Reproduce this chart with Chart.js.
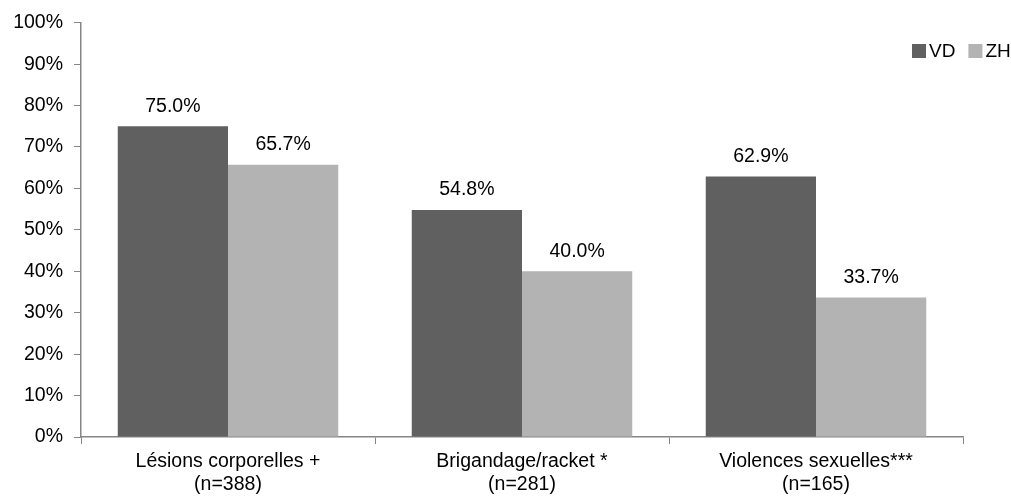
<!DOCTYPE html>
<html>
<head>
<meta charset="utf-8">
<script src="https://cdn.jsdelivr.net/npm/chart.js@4/dist/chart.umd.min.js"></script>
<style>
  html, body { margin: 0; padding: 0; background: #fff; }
  #wrap { width: 1011px; height: 497px; }
</style>
</head>
<body>
<div id="wrap"><canvas id="c" width="1011" height="497"></canvas></div>
<script>
// Categories (two-line labels) and series values in percent
const categories = [
  ['Lésions corporelles +', '(n=388)'],
  ['Brigandage/racket *', '(n=281)'],
  ['Violences sexuelles***', '(n=165)']
];
const seriesNames = ['VD', 'ZH'];
const vdValues = [75.0, 54.8, 62.9];
const zhValues = [65.7, 40.0, 33.7];
const yTicks = [0, 10, 20, 30, 40, 50, 60, 70, 80, 90, 100];

const FONT = '"Liberation Sans", Arial, sans-serif';
const SIZE = 19.5;
const AXIS = '#868686';

// Value labels above each bar
const valueLabels = {
  id: 'valueLabels',
  afterDatasetsDraw(chart) {
    const ctx = chart.ctx;
    ctx.save();
    ctx.font = SIZE + 'px ' + FONT;
    ctx.fillStyle = '#000';
    ctx.textAlign = 'center';
    ctx.textBaseline = 'alphabetic';
    chart.data.datasets.forEach((ds, i) => {
      chart.getDatasetMeta(i).data.forEach((bar, j) => {
        ctx.fillText(ds.data[j].toFixed(1) + '%', bar.x, bar.y - 14.5);
      });
    });
    ctx.restore();
  }
};

// Small legend in the upper right corner
const cornerLegend = {
  id: 'cornerLegend',
  afterDraw(chart) {
    const ctx = chart.ctx;
    ctx.save();
    ctx.font = '19px ' + FONT;
    ctx.textBaseline = 'middle';
    ctx.textAlign = 'left';
    const y = 51;
    let x = 912;
    chart.data.datasets.forEach(ds => {
      ctx.fillStyle = ds.backgroundColor;
      ctx.fillRect(x, y - 7, 14, 14);
      ctx.fillStyle = '#000';
      ctx.fillText(ds.label, x + 17, y + 1);
      x += 17 + ctx.measureText(ds.label).width + 13;
    });
    ctx.restore();
  }
};

new Chart(document.getElementById('c'), {
  type: 'bar',
  data: {
    labels: categories,
    datasets: [
      { label: seriesNames[0], data: vdValues, backgroundColor: '#606060' },
      { label: seriesNames[1], data: zhValues, backgroundColor: '#b3b3b3' }
    ]
  },
  options: {
    responsive: false,
    animation: false,
    devicePixelRatio: 1,
    layout: { padding: { top: 22, right: 48, left: 0, bottom: 0 } },
    datasets: { bar: { categoryPercentage: 0.75, barPercentage: 1.0 } },
    plugins: { legend: { display: false }, tooltip: { enabled: false } },
    scales: {
      x: {
        offset: true,
        afterFit(scale) { scale.height = 60; },
        grid: { offset: true, drawOnChartArea: false, drawTicks: true, tickLength: 7, color: AXIS },
        border: { color: AXIS, width: 1.5 },
        ticks: { color: '#000', padding: 6, font: { family: FONT, size: SIZE, lineHeight: 1.18 }, maxRotation: 0, autoSkip: false }
      },
      y: {
        min: 0, max: 100,
        afterFit(scale) { scale.width = 81; },
        afterBuildTicks(scale) { scale.ticks = yTicks.map(v => ({ value: v })); },
        grid: { drawOnChartArea: false, drawTicks: true, tickLength: 7, color: AXIS },
        border: { color: AXIS, width: 1.5 },
        ticks: { color: '#000', padding: 11, font: { family: FONT, size: SIZE }, callback: v => v + '%' }
      }
    }
  },
  plugins: [valueLabels, cornerLegend]
});
</script>
</body>
</html>
